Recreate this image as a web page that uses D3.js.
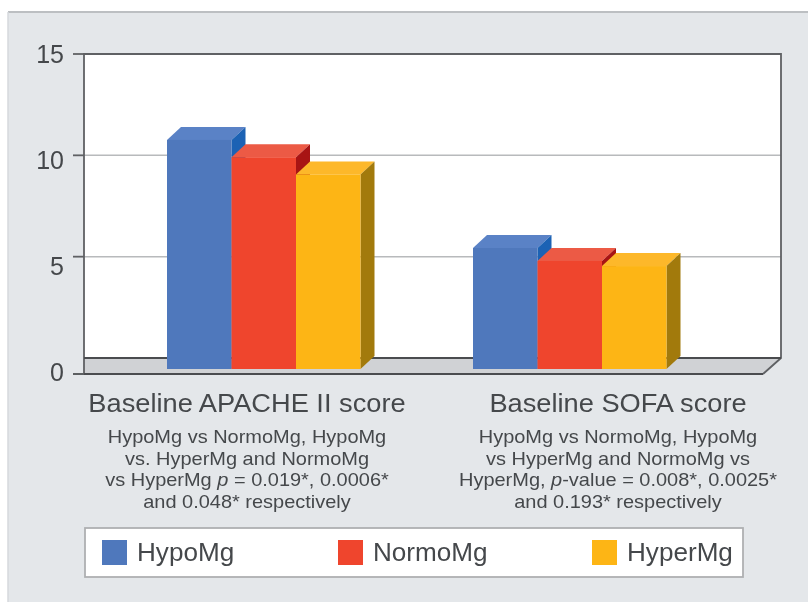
<!DOCTYPE html>
<html>
<head>
<meta charset="utf-8">
<script src="https://cdn.jsdelivr.net/npm/d3@7"></script>
<style>
  html, body { margin: 0; padding: 0; background: #fff; }
  svg { display: block; filter: blur(0.55px); }
  text { font-family: "Liberation Sans", Arial, sans-serif; fill: #45484b; }
</style>
</head>
<body>
<svg id="chart" width="808" height="602"></svg>
<script>
// values
const categories = ['Baseline APACHE II score', 'Baseline SOFA score']
const seriesNames = ['HypoMg', 'NormoMg', 'HyperMg']
const hypoMg = [11.3, 5.97]
const normoMg = [10.45, 5.33]
const hyperMg = [9.6, 5.08]
const yTicks = [0, 5, 10, 15]
const notes = [
  [['HypoMg vs NormoMg, HypoMg'], ['vs. HyperMg and NormoMg'], ['vs HyperMg ', '*p*', ' = 0.019*, 0.0006*'], ['and 0.048* respectively']],
  [['HypoMg vs NormoMg, HypoMg'], ['vs HyperMg and NormoMg vs'], ['HyperMg, ', '*p*', '-value = 0.008*, 0.0025*'], ['and 0.193* respectively']]
]

const seriesValues = [hypoMg, normoMg, hyperMg]
const faceColors = ['#4f78bc', '#ef452d', '#fdb515']
const topColors = ['#5a82c6', '#ec5a45', '#fdb82a']
const sideColors = ['#1c62b4', '#a81414', '#a27a0c']

const svg = d3.select('#chart')

// panel background, runs off the right and bottom of the picture
svg.append('rect').attr('x', 8).attr('y', 12).attr('width', 800).attr('height', 590)
    .attr('fill', '#e4e7ea')
svg.append('line').attr('x1', 8).attr('x2', 808).attr('y1', 12).attr('y2', 12)
    .attr('stroke', '#bcbfc2').attr('stroke-width', 1.8)
svg.append('line').attr('x1', 8).attr('x2', 8).attr('y1', 12).attr('y2', 602)
    .attr('stroke', '#d6d9dc').attr('stroke-width', 1.5)

const wall = { left: 84, right: 781, top: 54, floor: 358 }
const depth = { x: 14, y: 13 }
const frontRight = 763, frontBase = 374

// scale for the back wall, the bars use the same pixels per unit
let yBack = d3.scaleLinear().domain([0, 15]).range([wall.floor, wall.top])
let yBar = d3.scaleLinear().domain([0, 15]).range([369, 369 - (wall.floor - wall.top)])
let yLabel = d3.scaleLinear().domain([0, 15]).range([381, 63])

let xGroup = d3.scaleOrdinal().domain(categories).range([167, 473])
let xSeries = d3.scaleBand().domain(seriesNames).range([0, 193.5])

svg.append('rect').attr('x', wall.left).attr('y', wall.top)
    .attr('width', wall.right - wall.left).attr('height', wall.floor - wall.top).attr('fill', '#fff')

// floor
svg.append('polygon')
    .attr('points', [[wall.left, wall.floor], [wall.right, wall.floor], [frontRight, frontBase], [wall.left, frontBase]].join(' '))
    .attr('fill', '#d0d2d5')

// gridlines
svg.selectAll('.grid')
    .data(yTicks.filter(d => d > 0 && d < 15))
    .enter().append('line')
    .attr('class', 'grid')
    .attr('x1', wall.left).attr('x2', wall.right)
    .attr('y1', d => yBack(d)).attr('y2', d => yBack(d))
    .attr('stroke', '#b8babc').attr('stroke-width', 1.5)

// wall outline
svg.append('path')
    .attr('d', d3.line()([[wall.left, frontBase], [wall.left, wall.top], [wall.right, wall.top], [wall.right, wall.floor], [frontRight, frontBase]]))
    .attr('fill', 'none').attr('stroke', '#5f6164').attr('stroke-width', 1.8)
svg.append('line').attr('x1', wall.left).attr('x2', wall.right).attr('y1', wall.floor).attr('y2', wall.floor)
    .attr('stroke', '#4a4c4f').attr('stroke-width', 1.8)
svg.append('line').attr('x1', 73).attr('x2', frontRight).attr('y1', frontBase).attr('y2', frontBase)
    .attr('stroke', '#4a4c4f').attr('stroke-width', 1.8)

// y axis ticks and labels
const tickY = d => d === 0 ? frontBase : yBack(d)
svg.selectAll('.tick-mark')
    .data(yTicks)
    .enter().append('line')
    .attr('class', 'tick-mark')
    .attr('x1', 73).attr('x2', wall.left)
    .attr('y1', tickY).attr('y2', tickY)
    .attr('stroke', '#5f6164').attr('stroke-width', 1.8)
svg.selectAll('.tick-label')
    .data(yTicks)
    .enter().append('text')
    .attr('class', 'tick-label')
    .attr('x', 64)
    .attr('y', d => yLabel(d))
    .attr('text-anchor', 'end')
    .attr('font-size', 25)
    .text(d => d)

// bars, drawn left to right so that each front covers its neighbour's side
categories.forEach((cat, c) => {
    seriesNames.forEach((name, s) => {
        const v = seriesValues[s][c]
        const xl = xGroup(cat) + xSeries(name)
        const xr = xl + xSeries.bandwidth()
        const yt = yBar(v)
        const yb = yBar(0)
        const g = svg.append('g').attr('class', 'bar')
        g.append('polygon')
            .attr('points', [[xl, yt], [xl + depth.x, yt - depth.y], [xr + depth.x, yt - depth.y], [xr, yt]].join(' '))
            .attr('fill', topColors[s])
        g.append('polygon')
            .attr('points', [[xr, yt], [xr + depth.x, yt - depth.y], [xr + depth.x, yb - depth.y], [xr, yb]].join(' '))
            .attr('fill', sideColors[s])
        g.append('rect')
            .attr('x', xl).attr('y', yt)
            .attr('width', xr - xl).attr('height', yb - yt)
            .attr('fill', faceColors[s])
    })
})

// category labels and notes, the reference is stretched sideways so the text is too
const labelX = [247, 618]
categories.forEach((cat, c) => {
    svg.append('text')
        .attr('transform', `translate(${labelX[c]},412) scale(1.09,1)`)
        .attr('text-anchor', 'middle')
        .attr('font-size', 25)
        .text(cat)
    notes[c].forEach((line, i) => {
        const t = svg.append('text')
            .attr('transform', `translate(${labelX[c]},${443 + i * 21.7}) scale(1.11,1)`)
            .attr('text-anchor', 'middle')
            .attr('font-size', 18)
        line.forEach(part => {
            const italic = part.startsWith('*') && part.length === 3
            t.append('tspan')
                .attr('font-style', italic ? 'italic' : null)
                .text(italic ? part.slice(1, -1) : part)
        })
    })
})

// legend
svg.append('rect').attr('x', 85).attr('y', 528).attr('width', 658).attr('height', 49)
    .attr('fill', '#fff').attr('stroke', '#aeb0b2').attr('stroke-width', 1.8)
const legendSwatch = [102, 338, 592]
seriesNames.forEach((name, s) => {
    svg.append('rect')
        .attr('x', legendSwatch[s]).attr('y', 540)
        .attr('width', 25).attr('height', 25)
        .attr('fill', faceColors[s])
    svg.append('text')
        .attr('transform', `translate(${legendSwatch[s] + 35},561) scale(1.045,1)`)
        .attr('font-size', 25)
        .text(name)
})
</script>
</body>
</html>
